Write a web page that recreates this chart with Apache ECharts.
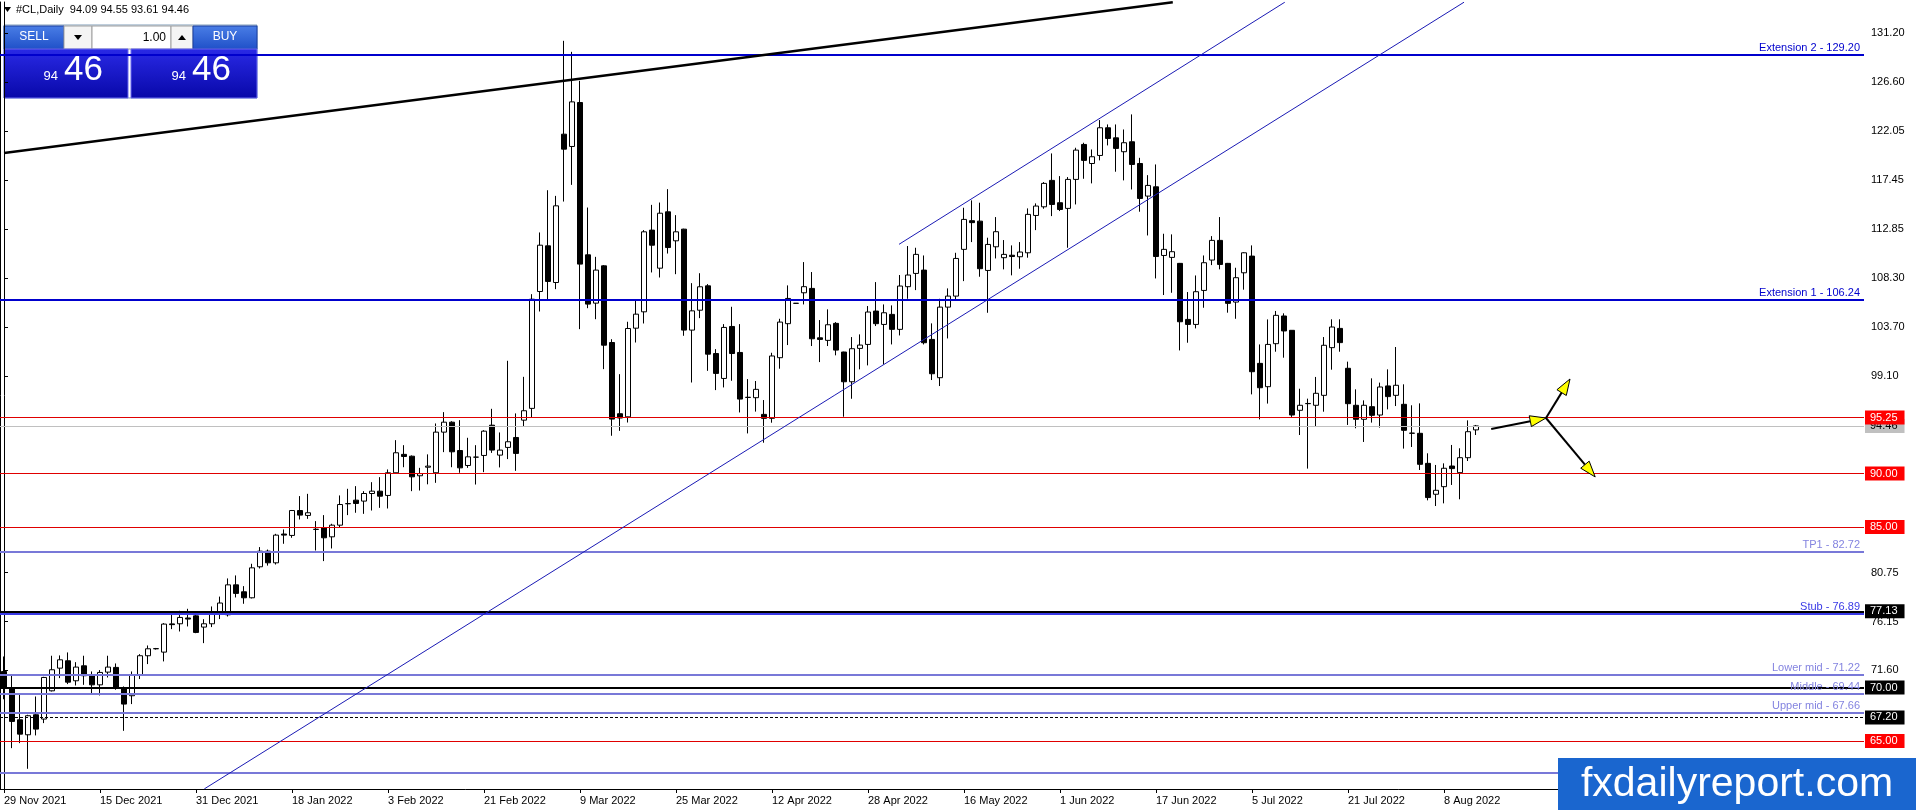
<!DOCTYPE html>
<html><head><meta charset="utf-8">
<script src="https://cdn.jsdelivr.net/npm/echarts@6/dist/echarts.min.js"></script>
<style>html,body{margin:0;padding:0;background:#fff;overflow:hidden}#c{width:1916px;height:810px}</style>
</head><body><div id="c"></div>
<script>
// ---- data ----
const dateLabels = ['29 Nov 2021','15 Dec 2021','31 Dec 2021','18 Jan 2022','3 Feb 2022','21 Feb 2022','9 Mar 2022','25 Mar 2022','12 Apr 2022','28 Apr 2022','16 May 2022','1 Jun 2022','17 Jun 2022','5 Jul 2022','21 Jul 2022','8 Aug 2022'];
const labelStep = 12;
const totalSlots = 233;
// [open, high, low, close]
const ohlc = [
[71.5,72.9,68.9,70.0],[70.0,71.13,64.33,66.83],[66.98,69.38,64.8,65.64],[65.58,67.45,62.4,67.36],[67.45,69.16,65.52,66.11],
[67.05,71.0,66.67,70.94],[69.69,72.97,69.63,71.66],[71.81,73.0,70.88,72.59],[72.5,73.28,70.32,70.5],[70.63,72.37,70.19,71.91],
[72.03,72.97,70.25,71.1],[71.13,71.5,69.38,70.25],[70.25,71.63,69.26,71.41],[71.44,72.97,70.94,71.91],[71.88,72.25,69.79,69.94],
[70.0,70.1,65.95,68.45],[69.23,71.5,68.45,71.19],[71.19,73.12,70.79,72.97],[72.97,73.93,72.19,73.62],[73.62,73.7,73.55,73.64],
[73.31,76.02,72.44,75.93],[75.95,76.8,75.46,75.88],[75.96,77.17,75.24,76.55],[76.5,77.36,75.71,76.4],[76.7,77.0,75.08,75.15],
[75.65,76.39,74.15,75.96],[75.96,77.58,75.65,76.86],[77.0,78.5,76.4,77.9],[76.8,80.2,76.64,79.6],[79.6,80.48,78.42,78.8],
[78.95,79.48,77.83,78.39],[78.39,81.57,78.33,81.19],[81.29,83.13,81.13,82.75],[82.75,82.9,81.4,81.66],[81.66,84.37,81.5,84.25],
[84.35,84.78,83.44,84.25],[84.22,86.6,84.0,86.55],[86.55,87.9,85.71,86.12],[86.09,88.11,85.77,86.34],[84.78,85.56,82.81,84.8],
[84.93,86.12,81.82,84.0],[84.09,85.31,83.0,85.18],[85.18,87.96,85.0,87.11],[87.18,88.58,86.12,87.2],[87.52,88.83,86.34,87.21],
[87.43,88.36,86.24,88.14],[88.14,89.2,86.55,88.36],[88.36,89.67,86.8,87.89],[87.96,90.39,86.74,90.08],[90.08,93.13,90.08,91.95],
[91.8,92.66,90.6,91.6],[91.63,91.7,88.36,89.7],[89.8,90.54,88.42,90.0],[90.6,91.8,89.0,90.7],[90.08,94.69,89.14,93.88],
[93.88,95.75,92.01,94.81],[94.81,94.9,90.6,92.04],[92.16,95.0,90.08,90.54],[90.76,93.35,90.54,91.57],[91.54,92.66,88.98,91.54],
[91.7,94.06,90.14,93.97],[94.53,96.06,91.94,92.2],[91.73,93.85,90.58,92.2],[92.45,100.55,91.36,92.98],[93.38,95.63,90.26,91.89],
[95.0,99.05,94.38,95.88],[96.1,106.78,95.25,106.31],[107.03,112.55,105.16,111.36],[111.3,116.5,106.31,107.97],[107.87,115.97,107.25,115.04],
[121.74,130.47,115.44,120.34],[120.59,129.44,117.0,124.76],[124.7,126.73,103.51,109.59],[110.46,114.88,105.47,105.85],[105.94,110.27,104.44,109.03],
[109.43,109.5,99.77,102.01],[102.26,102.57,93.54,95.1],[95.6,99.3,94.0,95.2],[95.31,104.2,94.78,103.57],[103.6,106.16,102.26,104.91],
[105.13,112.77,104.04,112.61],[112.77,115.13,108.81,111.36],[109.21,115.35,108.34,114.35],[114.48,116.6,110.58,111.14],[111.77,114.17,108.65,112.61],
[112.86,112.9,102.89,103.42],[103.42,107.81,98.52,105.22],[105.28,108.74,104.54,107.47],[107.56,107.72,99.61,101.17],[101.23,101.64,97.81,99.37],
[98.9,103.98,98.06,103.67],[103.76,105.6,98.68,101.23],[101.33,103.98,95.72,96.97],[97.12,98.84,93.76,97.14],[97.1,98.66,95.8,97.88],
[95.54,96.88,92.89,95.17],[95.17,101.3,94.76,101.0],[100.84,104.48,99.81,104.17],[104.02,107.6,102.02,106.38],[105.92,105.95,105.9,105.93],
[106.91,109.78,105.82,107.48],[107.32,108.85,101.93,102.61],[102.7,104.36,100.43,102.55],[102.46,105.36,101.93,103.92],[104.05,104.17,101.06,101.55],
[101.37,101.4,95.32,98.59],[98.59,102.77,97.0,101.68],[101.71,103.02,99.75,102.02],[102.08,105.67,100.12,105.11],[105.2,107.91,103.8,104.02],
[103.95,105.82,100.21,105.04],[104.89,105.73,102.08,103.49],[103.49,108.57,102.92,107.54],[107.48,111.28,106.35,108.57],[108.72,111.12,107.16,110.5],
[109.03,110.4,102.08,102.24],[102.55,104.05,98.75,99.34],[98.97,106.35,98.19,105.57],[105.57,107.32,102.64,106.6],[106.6,110.65,106.23,110.12],
[110.97,114.86,108.0,113.77],[113.65,115.55,111.65,113.47],[113.61,115.33,108.41,109.16],[109.0,112.06,105.04,111.43],[111.21,113.99,110.12,112.62],
[110.19,111.84,109.1,110.5],[110.42,111.34,108.54,110.3],[110.28,111.65,109.16,110.72],[110.65,114.8,110.19,114.24],[114.14,115.27,112.77,115.02],
[114.95,117.26,114.77,117.14],[117.42,119.94,114.08,115.17],[115.33,117.82,114.55,114.7],[114.8,117.73,111.12,117.51],[117.51,120.47,115.17,120.25],
[120.78,120.94,117.57,119.29],[119.0,120.31,117.14,119.63],[119.75,123.06,119.29,122.34],[122.34,122.65,120.69,121.34],[121.4,122.65,118.23,120.41],
[120.1,122.18,117.42,120.94],[121.03,123.59,116.57,118.91],[119.0,119.53,114.49,115.73],[115.95,117.91,112.27,116.95],[116.82,118.91,108.25,110.3],
[110.4,112.43,106.7,110.97],[110.22,112.37,106.91,110.75],[109.66,109.7,101.52,104.2],[104.42,106.98,102.24,103.95],[103.95,108.53,103.58,107.01],
[107.13,110.4,105.51,109.72],[109.97,112.21,109.5,111.81],[111.81,113.99,109.1,109.56],[109.66,109.7,105.05,105.92],[106.04,109.25,104.48,108.32],
[108.78,110.7,107.2,110.65],[110.34,111.34,97.41,99.53],[100.31,102.08,95.07,98.03],[98.13,104.42,96.55,102.08],[102.15,105.21,101.4,104.8],
[104.74,104.99,100.84,103.34],[103.4,103.4,95.3,95.48],[95.92,97.94,93.61,96.39],[96.54,97.01,90.47,96.56],[96.39,99.04,94.45,97.51],
[97.32,102.77,95.79,102.0],[101.78,104.43,99.72,103.71],[103.58,104.43,101.4,102.25],[99.85,100.47,94.55,96.54],[96.39,97.88,94.24,95.08],
[95.08,96.85,92.96,96.39],[96.26,98.91,94.77,95.45],[95.48,98.51,94.3,98.1],[98.2,99.75,96.01,97.2],[97.32,101.84,96.32,98.26],
[96.48,98.35,92.34,94.05],[93.77,96.39,92.49,93.79],[93.77,96.57,90.34,90.87],[90.96,91.9,87.5,87.76],[88.07,90.81,86.97,88.44],
[88.78,90.96,87.22,90.5],[90.71,92.68,88.94,90.47],[90.09,92.37,87.6,91.49],[91.49,94.98,91.18,93.92],[94.09,94.55,93.61,94.46]
];
const yTicks = [131.2,126.6,122.05,117.45,112.85,108.3,103.7,99.1,80.75,76.15,71.6];
const yMin = 60.51, yMax = 134.1;

// horizontal levels: value, label text (on line), box text (axis)
const levelValues = [129.2, 106.24, 94.46, 95.25, 90, 85, 82.72, 76.89, 77.13, 71.22, 69.44, 70, 67.66, 67.2, 65, 62.04];
const levelTexts  = ['Extension 2 - 129.20','Extension 1 - 106.24','','','','','TP1 - 82.72','Stub - 76.89','','Lower mid - 71.22','Middle - 69.44','','Upper mid - 67.66','','',''];
const levelBoxes  = ['','','94.46','95.25','90.00','85.00','','','77.13','','','70.00','','67.20','65.00',''];
const levelKinds  = ['ext','ext','bid','red','red','red','mid','stub','blk','mid','mid','blk','mid','dash','red','mid'];

// trend lines [index, price] pairs
const trendBlack = [[0,119.98],[146.1,134.08]];
const channelLower = [[25.04,60.52],[182.5,134.08]];
const channelUpper = [[111.875,111.44],[160.1,134.08]];
// projection arrows [fromIdx, fromPrice, toIdx, toPrice]
const arrows = [[185.9,94.17,192.75,95.2],[192.75,95.2,195.75,98.85],[192.75,95.2,198.9,89.69]];

// ---- build ----
const categories = [];
for (let i = 0; i < totalSlots; i++) {
  categories.push(i < ohlc.length && i % labelStep === 0 ? dateLabels[i / labelStep] : '');
}
const candleData = ohlc.map(r => [r[0], r[3], r[2], r[1]]);
const FONT = 'Liberation Sans, Arial, sans-serif';

const kindStyle = {
  ext:  {color:'#0000cd', width:2, type:'solid', text:'#0000cd'},
  bid:  {color:'#c0c0c0', width:1, type:'solid', bg:'#c0c0c0', fg:'#000'},
  red:  {color:'#e00000', width:1, type:'solid', bg:'#ff0000', fg:'#fff'},
  mid:  {color:'#7878d8', width:2, type:'solid', text:'#8484e0'},
  stub: {color:'#3a3ae6', width:2, type:'solid', text:'#3a3ae6'},
  blk:  {color:'#000000', width:2, type:'solid', bg:'#000', fg:'#fff'},
  dash: {color:'#000000', width:1, type:[3,2], bg:'#000', fg:'#fff'}
};
const markLineData = levelValues.map((v, k) => {
  const s = kindStyle[levelKinds[k]];
  const item = { yAxis: v, lineStyle: {color: s.color, width: s.width, type: s.type} };
  if (levelBoxes[k]) {
    item.label = { show: true, position: 'end', distance: 1, formatter: levelBoxes[k],
      backgroundColor: s.bg, color: s.fg, fontFamily: FONT, fontSize: 11,
      padding: [2, 7, 1, 5] };
  } else if (levelTexts[k]) {
    item.label = { show: true, position: 'insideEndTop', distance: [4, 1], formatter: levelTexts[k],
      color: s.text, fontFamily: FONT, fontSize: 11 };
  } else {
    item.label = { show: false };
  }
  return item;
});

const chart = echarts.init(document.getElementById('c'), null, {renderer: 'canvas'});
const lineSeries = (pts, color, width) => ({
  type: 'line', xAxisIndex: 1, yAxisIndex: 0, data: pts, symbol: 'none', silent: true,
  lineStyle: {color: color, width: width}, z: 5, animation: false
});

const option = {
  animation: false,
  backgroundColor: '#ffffff',
  grid: {left: 0, right: 52, top: 2, bottom: 21, containLabel: false},
  xAxis: [{
    type: 'category', data: categories, boundaryGap: true,
    axisLine: {show: true, lineStyle: {color: '#000', width: 1}},
    axisTick: {show: true, alignWithLabel: true, length: 4, lineStyle: {color: '#000'},
      interval: (i) => i < ohlc.length && i % labelStep === 0},
    axisLabel: {show: true, align: 'left', margin: 6, color: '#000', fontFamily: FONT, fontSize: 11,
      interval: (i) => i < ohlc.length && i % labelStep === 0},
    splitLine: {show: false}
  }, {
    type: 'value', min: -0.5, max: totalSlots - 0.5, show: false
  }],
  yAxis: [{
    type: 'value', position: 'right', min: yMin, max: yMax, scale: true,
    axisLine: {show: true, lineStyle: {color: '#000', width: 1}},
    axisTick: {show: true, length: 4, customValues: yTicks, lineStyle: {color: '#000'}},
    axisLabel: {show: true, customValues: yTicks, formatter: (v) => v.toFixed(2), margin: 7,
      color: '#000', fontFamily: FONT, fontSize: 11},
    splitLine: {show: false}
  }, {
    type: 'value', position: 'left', min: yMin, max: yMax,
    axisLine: {show: true, lineStyle: {color: '#000', width: 1}},
    axisTick: {show: false}, axisLabel: {show: false}, splitLine: {show: false}
  }],
  series: [
    {
      type: 'candlestick', data: candleData, barWidth: 5, silent: true, z: 3,
      itemStyle: {color: '#ffffff', color0: '#000000', borderColor: '#000000', borderColor0: '#000000', borderWidth: 1},
      markLine: {silent: true, symbol: ['none', 'none'], animation: false, data: markLineData, z: 4}
    },
    lineSeries(trendBlack, '#000000', 2.5),
    lineSeries(channelLower, '#1a1ab4', 1),
    lineSeries(channelUpper, '#1a1ab4', 1),
    {
      type: 'custom', xAxisIndex: 1, yAxisIndex: 0, data: arrows, silent: true, z: 6, clip: false,
      encode: {x: [0, 2], y: [1, 3]},
      renderItem: function (params, api) {
        const p0 = api.coord([api.value(0), api.value(1)]);
        const p1 = api.coord([api.value(2), api.value(3)]);
        const dx = p1[0] - p0[0], dy = p1[1] - p0[1];
        const len = Math.sqrt(dx * dx + dy * dy);
        const ux = dx / len, uy = dy / len;
        const L = 16, W = 5.5;
        const bx = p1[0] - ux * L, by = p1[1] - uy * L;
        return {
          type: 'group', children: [
            {type: 'line', shape: {x1: p0[0], y1: p0[1], x2: bx, y2: by}, style: {stroke: '#000', lineWidth: 2}},
            {type: 'polygon', shape: {points: [[p1[0], p1[1]], [bx - uy * W, by + ux * W], [bx + uy * W, by - ux * W]]},
              style: {fill: '#ffff00', stroke: '#000', lineWidth: 1}}
          ]
        };
      }
    }
  ],
  graphic: [
    // header
    {type: 'polygon', shape: {points: [[4, 7], [11, 7], [7.5, 12]]}, style: {fill: '#000'}},
    {type: 'text', left: 16, top: 4, style: {text: '#CL,Daily  94.09 94.55 93.61 94.46', font: '11px ' + FONT, fill: '#000'}},
    // one-click trading panel
    {type: 'rect', shape: {x: 4, y: 25, width: 253, height: 73}, style: {fill: '#ffffff', stroke: '#7f9db9', lineWidth: 1}},
    {type: 'rect', shape: {x: 4, y: 26, width: 60, height: 23},
      style: {fill: new echarts.graphic.LinearGradient(0, 0, 0, 1, [{offset: 0, color: '#4a7ee6'}, {offset: 1, color: '#1f50c8'}]), stroke: '#1a3fa0'}},
    {type: 'text', x: 34, y: 37, style: {text: 'SELL', font: '12px ' + FONT, fill: '#fff', align: 'center', verticalAlign: 'middle'}},
    {type: 'rect', shape: {x: 64, y: 26, width: 28, height: 23}, style: {fill: '#f4f4f4', stroke: '#a0a0a0'}},
    {type: 'polygon', shape: {points: [[74, 35], [82, 35], [78, 40]]}, style: {fill: '#000'}},
    {type: 'rect', shape: {x: 92, y: 26, width: 79, height: 23}, style: {fill: '#ffffff', stroke: '#a0a0a0'}},
    {type: 'text', x: 166, y: 38, style: {text: '1.00', font: '12px ' + FONT, fill: '#000', align: 'right', verticalAlign: 'middle'}},
    {type: 'rect', shape: {x: 171, y: 26, width: 22, height: 23}, style: {fill: '#f4f4f4', stroke: '#a0a0a0'}},
    {type: 'polygon', shape: {points: [[178, 40], [186, 40], [182, 35]]}, style: {fill: '#000'}},
    {type: 'rect', shape: {x: 193, y: 26, width: 64, height: 23},
      style: {fill: new echarts.graphic.LinearGradient(0, 0, 0, 1, [{offset: 0, color: '#4a7ee6'}, {offset: 1, color: '#1f50c8'}]), stroke: '#1a3fa0'}},
    {type: 'text', x: 225, y: 37, style: {text: 'BUY', font: '12px ' + FONT, fill: '#fff', align: 'center', verticalAlign: 'middle'}},
    {type: 'rect', shape: {x: 4, y: 49, width: 124, height: 49},
      style: {fill: new echarts.graphic.LinearGradient(0, 0, 0, 1, [{offset: 0, color: '#2a2ae6'}, {offset: 1, color: '#0808a8'}]), stroke: '#6a6af0'}},
    {type: 'text', x: 58, y: 83, style: {text: '94', font: '13px ' + FONT, fill: '#fff', align: 'right', verticalAlign: 'bottom'}},
    {type: 'text', x: 64, y: 88, style: {text: '46', font: '35px ' + FONT, fill: '#fff', align: 'left', verticalAlign: 'bottom'}},
    {type: 'rect', shape: {x: 131, y: 49, width: 126, height: 49},
      style: {fill: new echarts.graphic.LinearGradient(0, 0, 0, 1, [{offset: 0, color: '#2a2ae6'}, {offset: 1, color: '#0808a8'}]), stroke: '#6a6af0'}},
    {type: 'text', x: 186, y: 83, style: {text: '94', font: '13px ' + FONT, fill: '#fff', align: 'right', verticalAlign: 'bottom'}},
    {type: 'text', x: 192, y: 88, style: {text: '46', font: '35px ' + FONT, fill: '#fff', align: 'left', verticalAlign: 'bottom'}},
    // logo
    {type: 'rect', z: 100, shape: {x: 1558, y: 758, width: 358, height: 52}, style: {fill: '#1a66cf'}},
    {type: 'text', z: 101, x: 1737, y: 785, style: {text: 'fxdailyreport.com', font: '41px ' + FONT, fill: '#ffffff', align: 'center', verticalAlign: 'middle'}}
  ]
};
chart.setOption(option);
</script>
</body></html>
